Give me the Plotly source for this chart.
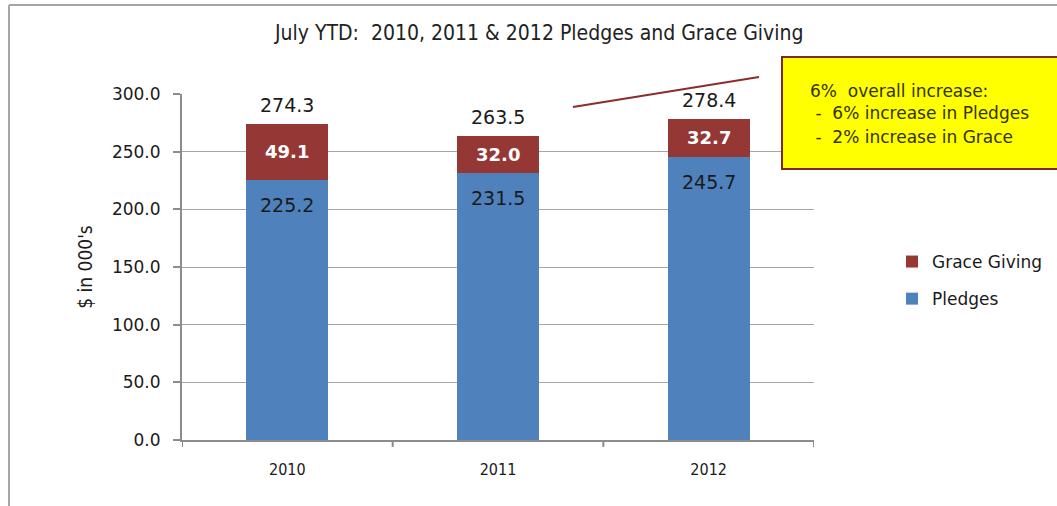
import plotly.graph_objects as go

years = ["2010", "2011", "2012"]
pledges = [225.2, 231.5, 245.7]
grace = [49.1, 32.0, 32.7]
totals = [274.3, 263.5, 278.4]
y_ticks = [0, 50, 100, 150, 200, 250, 300]
y_tick_labels = ["0.0", "50.0", "100.0", "150.0", "200.0", "250.0", "300.0"]
title_text = "July YTD:  2010, 2011 &amp; 2012 Pledges and Grace Giving"
note_lines = ["6%  overall increase:", " -  6% increase in Pledges", " -  2% increase in Grace"]

BLUE = "#4F81BD"
RED = "#953735"
TICK_FONT = "DejaVu Sans"
COND_FONT = "DejaVu Sans Condensed, sans-serif"
TXT = "#1a1a1a"

fig = go.Figure()
fig.add_trace(go.Bar(
    x=years, y=pledges, name="Pledges", marker=dict(color=BLUE, line=dict(width=0)),
    legendgroup="p", legendrank=2, hoverinfo="skip",
))
fig.add_trace(go.Bar(
    x=years, y=grace, name="Grace Giving", marker=dict(color=RED, line=dict(width=0)),
    legendgroup="g", legendrank=1, hoverinfo="skip",
))

L, R, T, B = 182, 243, 94, 66
W, H = 1057 - L - R, 506 - T - B
def px(x):
    return (x - L) / W
def py(y):
    return (506 - B - y) / H

annotations = []
# data labels (x given as category index)
for i, (p, g, t) in enumerate(zip(pledges, grace, totals)):
    annotations.append(dict(x=i, y=p, yshift=-25, text=f"{p:.1f}", showarrow=False,
                            font=dict(family=TICK_FONT, size=19, color=TXT), yanchor="middle"))
    annotations.append(dict(x=i, y=p + g / 2, text=f"<b>{g:.1f}</b>", showarrow=False,
                            font=dict(family=TICK_FONT, size=18, color="white"), yanchor="middle"))
    annotations.append(dict(x=i, y=t, yshift=19, text=f"{t:.1f}", showarrow=False,
                            font=dict(family=TICK_FONT, size=19, color=TXT), yanchor="middle"))

shapes = [
    # outer frame
    dict(type="line", xref="paper", yref="paper", x0=px(9), x1=px(1060), y0=py(5), y1=py(5),
         line=dict(color="#A6A6A6", width=2)),
    dict(type="line", xref="paper", yref="paper", x0=px(9), x1=px(9), y0=py(5), y1=py(510),
         line=dict(color="#A6A6A6", width=2)),
    # note box + connector
    dict(type="rect", xref="paper", yref="paper", x0=px(782), x1=px(1070), y0=py(169), y1=py(57),
         fillcolor="#FFFF00", line=dict(color="#7F2A20", width=2)),
    dict(type="line", xref="paper", yref="paper", x0=px(573), x1=px(759), y0=py(107), y1=py(77),
         line=dict(color="#8B2D2D", width=2)),
]

for i, (line, ypos) in enumerate(zip(note_lines, [91, 113, 137])):
    annotations.append(dict(
        xref="paper", yref="paper", x=px(808), y=py(ypos),
        xanchor="left", yanchor="middle", showarrow=False,
        text=line.replace(" ", "&nbsp;"),
        font=dict(family=TICK_FONT, size=17, color="#333300"),
    ))
annotations.append(dict(
    xref="paper", yref="paper", x=px(538), y=py(33), xanchor="center", yanchor="middle",
    showarrow=False, text=title_text, font=dict(family=COND_FONT, size=21, color="#222222"),
))

fig.update_layout(
    width=1057, height=506,
    margin=dict(l=L, r=R, t=T, b=B, pad=0, autoexpand=False),
    paper_bgcolor="white", plot_bgcolor="white",
    barmode="stack", bargap=0.61,
    showlegend=True,
    legend=dict(x=px(892), y=py(244), xanchor="left", yanchor="top",
                traceorder="grouped", tracegroupgap=12,
                font=dict(family=TICK_FONT, size=17, color=TXT),
                bgcolor="rgba(0,0,0,0)", itemwidth=30),
    shapes=shapes, annotations=annotations,
    xaxis=dict(
        type="category", categoryorder="array", categoryarray=years,
        range=[-0.5, len(years) - 0.5],
        showgrid=False, showline=True, linecolor="#8C8C8C", linewidth=2,
        ticks="", tickfont=dict(family=COND_FONT, size=16, color=TXT),
        ticklabelstandoff=14, fixedrange=True,
    ),
    yaxis=dict(
        range=[0, 300], tickvals=y_ticks, ticktext=y_tick_labels,
        showgrid=True, gridcolor="#A6A6A6", gridwidth=1,
        showline=True, linecolor="#8C8C8C", linewidth=2,
        ticks="outside", ticklen=7, tickcolor="#8C8C8C", tickwidth=2,
        tickfont=dict(family=TICK_FONT, size=17, color=TXT), ticklabelstandoff=9,
        title=dict(text="$ in 000's", font=dict(family=COND_FONT, size=19, color=TXT), standoff=14),
        zeroline=False, fixedrange=True,
    ),
)

# x-axis category boundary ticks
for k in range(len(years) + 1):
    fig.add_shape(type="line", xref="x", yref="paper", x0=k - 0.5, x1=k - 0.5, y0=0, y1=-0.02,
                  line=dict(color="#8C8C8C", width=2))

fig.write_html("out.html", config={"displayModeBar": False},
               post_script="document.body.style.margin='0px';")
